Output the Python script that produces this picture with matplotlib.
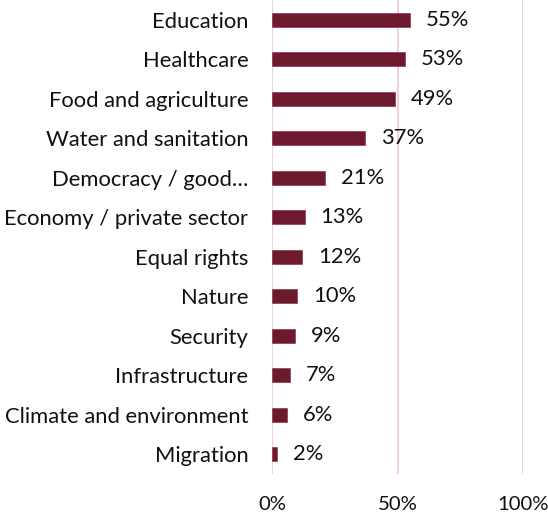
import matplotlib
matplotlib.use("Agg")
import matplotlib.pyplot as plt
from matplotlib.ticker import FuncFormatter

categories = [
    "Education", "Healthcare", "Food and agriculture", "Water and sanitation",
    "Democracy / good…", "Economy / private sector", "Equal rights", "Nature",
    "Security", "Infrastructure", "Climate and environment", "Migration",
]
values = [55, 53, 49, 37, 21, 13, 12, 10, 9, 7, 6, 2]
x_ticks = [0, 50, 100]

bar_color = "#6D1A2E"
grid_color = "#F2C6D0"
fs = 15.8

plt.rcParams["font.family"] = ["Lato", "DejaVu Sans"]

fig = plt.figure(figsize=(5.48, 5.17), dpi=100)
ax = fig.add_axes([272 / 548, 1 - 474 / 517, (523 - 272) / 548, 474 / 517])

y = list(range(len(categories)))
ax.barh(y, values, height=0.36, color=bar_color, edgecolor="#8A3A4E", linewidth=0.5, zorder=3)

for yi, v in zip(y, values):
    ax.annotate(f"{v}%", xy=(v, yi), xytext=(11.5, 0), textcoords="offset points",
                va="center", ha="left", fontsize=fs, color="#111111")

ax.set_ylim(len(categories) - 0.5, -0.5)
ax.set_xlim(0, 100)
ax.set_yticks(y)
ax.set_yticklabels(categories, fontsize=fs, color="#111111")
ax.set_xticks(x_ticks)
ax.xaxis.set_major_formatter(FuncFormatter(lambda v, p: f"{v:.0f}%"))
ax.tick_params(axis="x", labelsize=14.6, colors="#111111", length=0, pad=16)
ax.tick_params(axis="y", length=0, pad=17)

for s in ax.spines.values():
    s.set_visible(False)

ax.grid(axis="x", color=grid_color, linewidth=1.2, zorder=0)
ax.set_axisbelow(True)

fig.savefig("out.png", dpi=100)
